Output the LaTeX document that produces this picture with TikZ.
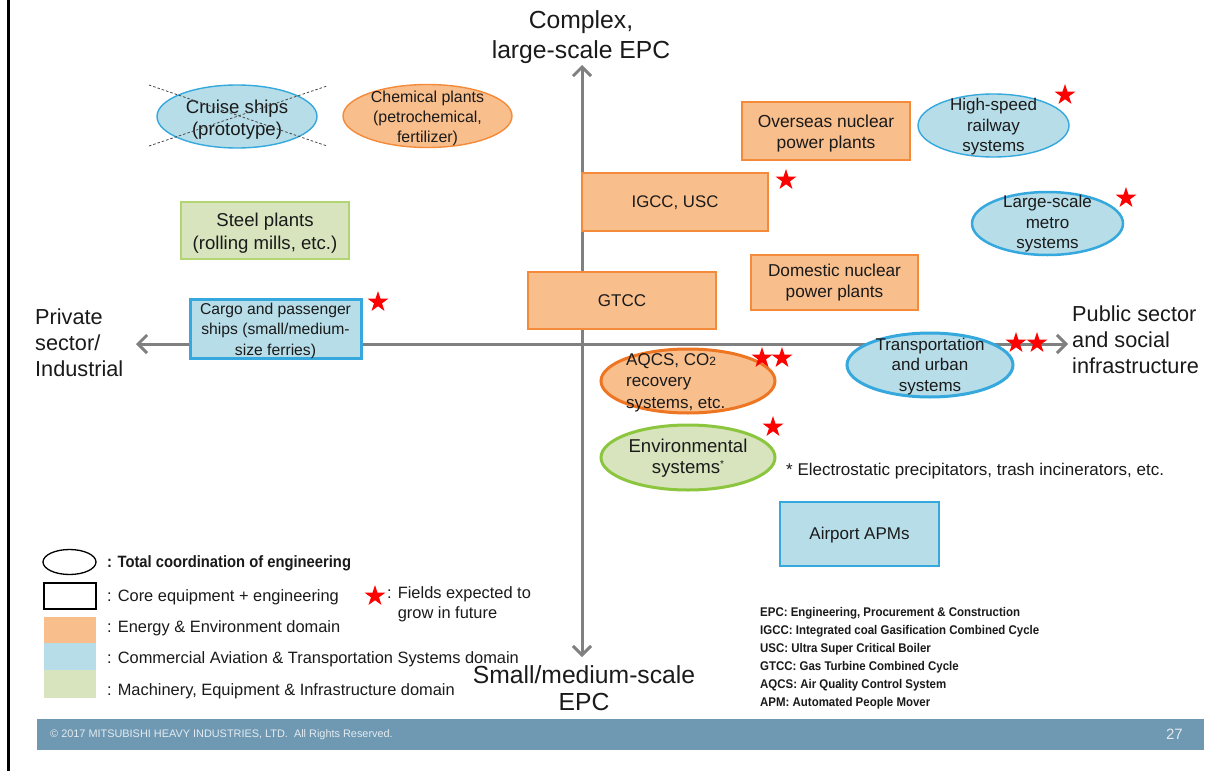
\documentclass[tikz,border=0pt]{standalone}
\usepackage{fontspec}
\usepackage{graphicx}
\setmainfont{Liberation Sans}
\usetikzlibrary{shapes.geometric,arrows.meta}

\definecolor{inkdark}{HTML}{1A1A1A}
\definecolor{engfill}{HTML}{F8BE8C}
\definecolor{engline}{HTML}{F38B3A}
\definecolor{engheavy}{HTML}{EE7623}
\definecolor{trfill}{HTML}{B7DDE8}
\definecolor{trline}{HTML}{35A8DD}
\definecolor{mafill}{HTML}{D7E4BD}
\definecolor{maline}{HTML}{B3D472}
\definecolor{maheavy}{HTML}{8CC63F}
\definecolor{axisgray}{HTML}{808080}
\definecolor{barblue}{HTML}{6F98B2}
\definecolor{bartext}{HTML}{E3EBF0}
\definecolor{starred}{HTML}{FF0000}

\newcommand{\fsz}[2]{\fontsize{#1pt}{#2pt}\selectfont}

\tikzset{
  panel/.style={rectangle, draw, line width=1.4pt, inner sep=0pt},
  oval/.style={ellipse, draw, line width=1.4pt, inner sep=0pt},
  energy/.style={fill=engfill, draw=engline},
  transport/.style={fill=trfill, draw=trline},
  machinery/.style={fill=mafill, draw=maline},
  heavy/.style={line width=3pt},
  growth/.style={star, star points=5, star point ratio=2.6, fill=starred,
    draw=none, minimum size=22pt, inner sep=0pt},
  caption/.style={inner sep=0pt, align=center, text=inkdark},
  axisline/.style={draw=axisgray, line width=3pt,
    {Straight Barb[length=9pt,width=18pt]}-{Straight Barb[length=9pt,width=18pt]}},
  legendtext/.style={inner sep=0pt, anchor=west, text=inkdark, font=\fsz{16.4}{20}},
  abbrev/.style={inner sep=0pt, anchor=west, text=inkdark},
}

\begin{document}
\begin{tikzpicture}[x=1pt,y=-1pt]
\useasboundingbox (0,0) rectangle (1224,771);
\fill[white] (0,0) rectangle (1224,771);

% page frame line on the left
\draw[black, line width=2.7pt] (8.7,0) -- (8.7,771);

% axes
\coordinate (ax-top) at (582,65);
\coordinate (ax-bot) at (582,657);
\coordinate (ax-left) at (136,344);
\coordinate (ax-right) at (1068,344);
\draw[axisline] (ax-bot) -- (ax-top);
\draw[axisline] (ax-left) -- (ax-right);

% axis captions
\node[caption, font=\fsz{24.7}{30}] (lbl-top) at (581,37.5) {Complex,\\large-scale EPC};
\node[caption, font=\fsz{24.7}{27}] (lbl-bot) at (584,688) {Small/medium-scale\\EPC};
\node[caption, align=left, anchor=west, font=\fsz{21.7}{26}] (lbl-left) at (35,342.5) {Private\\sector/\\Industrial};
\node[caption, align=left, anchor=west, font=\fsz{21.7}{26}] (lbl-right) at (1072,340) {Public sector\\and social\\infrastructure};

% core equipment + engineering (rectangles)
\node[panel, energy, minimum width=168pt, minimum height=58pt] (overseas) at (826,131) {};
\node[caption, font=\fsz{17.4}{21}] (overseas-t) at (826,133) {Overseas nuclear\\power plants};

\node[panel, energy, minimum width=186pt, minimum height=58pt] (igcc) at (675,202) {};
\node[caption, font=\fsz{16.8}{20}] (igcc-t) at (675,202.5) {IGCC, USC};

\node[panel, machinery, line width=1.2pt, minimum width=168pt, minimum height=57pt] (steel) at (265,230.5) {};
\node[caption, font=\fsz{18.6}{23}] (steel-t) at (265,233) {Steel plants\\(rolling mills, etc.)};

\node[panel, energy, minimum width=167pt, minimum height=55pt] (domestic) at (834.5,282.5) {};
\node[caption, font=\fsz{17.2}{21}] (domestic-t) at (834.5,283) {Domestic nuclear\\power plants};

\node[panel, energy, minimum width=188pt, minimum height=57pt] (gtcc) at (622,300.5) {};
\node[caption, font=\fsz{17}{20}] (gtcc-t) at (622,300.5) {GTCC};

\node[panel, transport, heavy, minimum width=171pt, minimum height=59pt] (cargo) at (275.5,328.5) {};
\node[caption, font=\fsz{15.7}{20.5}] (cargo-t) at (275.5,330.5) {Cargo and passenger\\ships (small/medium-\\size ferries)};

\node[panel, transport, minimum width=159pt, minimum height=64pt] (apm) at (859.5,534) {};
\node[caption, font=\fsz{17}{20}] (apm-t) at (859.5,535) {Airport APMs};

% total coordination of engineering (ellipses)
\node[oval, transport, minimum width=160pt, minimum height=63pt] (cruise) at (237,116.5) {};
\node[caption, font=\fsz{18.6}{22}] (cruise-t) at (237,119.5) {Cruise ships\\(prototype)};
\draw[inkdark!80, line width=0.8pt, dash pattern=on 2.5pt off 2pt] (149,85) -- (327,146);
\draw[inkdark!80, line width=0.8pt, dash pattern=on 2.5pt off 2pt] (149,146) -- (327,86);

\node[oval, energy, minimum width=169pt, minimum height=63pt] (chemical) at (427.5,116) {};
\node[caption, font=\fsz{15.9}{20}] (chemical-t) at (427.5,118.5) {Chemical plants\\(petrochemical,\\fertilizer)};

\node[oval, transport, minimum width=151pt, minimum height=63pt] (hsr) at (993.5,125.5) {};
\node[caption, font=\fsz{17}{20.5}] (hsr-t) at (993.5,127) {High-speed\\railway\\systems};

\node[oval, transport, line width=2.5pt, minimum width=151pt, minimum height=63pt] (metro) at (1047.5,223.5) {};
\node[caption, font=\fsz{17}{20.5}] (metro-t) at (1047.5,224) {Large-scale\\metro\\systems};

\node[oval, energy, draw=engheavy, heavy, minimum width=174pt, minimum height=64pt] (aqcs) at (688,381) {};
\node[caption, align=left, anchor=west, font=\fsz{17}{21.5}] (aqcs-t) at (626,382.5)
  {AQCS, CO{\fsz{12}{12}\raisebox{-0.5pt}{2}}\\recovery\\systems, etc.};

\node[oval, machinery, draw=maheavy, heavy, minimum width=174pt, minimum height=65pt] (env) at (688,457.5) {};
\node[caption, font=\fsz{18.6}{21}] (env-t) at (688,458.5) {Environmental\\systems\raisebox{6pt}{\fsz{10}{10}*}};

\node[oval, transport, heavy, minimum width=166pt, minimum height=64pt] (transp) at (930,365) {};
\node[caption, font=\fsz{17}{20.5}] (transp-t) at (930,366.5) {Transportation\\and urban\\systems};

% footnote for environmental systems
\node[inner sep=0pt, anchor=west, text=inkdark, font=\fsz{17}{20}] (envnote) at (786,471)
  {* Electrostatic precipitators, trash incinerators, etc.};

% growth stars
\node[growth] (s-hsr) at (1065,95) {};
\node[growth] (s-metro) at (1126,198) {};
\node[growth] (s-igcc) at (786,180) {};
\node[growth] (s-cargo) at (378,302) {};
\node[growth] (s-aqcs1) at (762,358) {};
\node[growth] (s-aqcs2) at (782,358) {};
\node[growth] (s-env) at (773,427) {};
\node[growth] (s-transp1) at (1016,343) {};
\node[growth] (s-transp2) at (1037,343) {};

% legend
\node[ellipse, draw=black, line width=1.3pt, minimum width=53pt, minimum height=25pt, inner sep=0pt] (lg-oval) at (69.5,562) {};
\node[rectangle, draw=black, line width=1.3pt, minimum width=52pt, minimum height=26pt, inner sep=0pt] (lg-rect) at (70,596) {};
\node[rectangle, fill=engfill, minimum width=52pt, minimum height=26.5pt, inner sep=0pt] (lg-energy) at (70,630) {};
\node[rectangle, fill=trfill, minimum width=52pt, minimum height=27pt, inner sep=0pt] (lg-transport) at (70,656.5) {};
\node[rectangle, fill=mafill, minimum width=52pt, minimum height=28pt, inner sep=0pt] (lg-machinery) at (70,684) {};

\node[legendtext] (lg-oval-t) at (107,563) {\scalebox{0.9}[1]{\bfseries : Total coordination of engineering}};
\node[legendtext] (lg-rect-t) at (107,597) {: Core equipment + engineering};
\node[legendtext] (lg-energy-t) at (107,628) {: Energy \& Environment domain};
\node[legendtext] (lg-transport-t) at (107,659.5) {: Commercial Aviation \& Transportation Systems domain};
\node[legendtext] (lg-machinery-t) at (107,691) {: Machinery, Equipment \& Infrastructure domain};

\node[growth] (lg-star) at (375,596) {};
\node[legendtext, align=left] (lg-star-t) at (387,604) {: Fields expected to\\\phantom{: }grow in future};

% abbreviations
\node[abbrev] (abbr1) at (760,613) {\scalebox{0.91}[1]{\fsz{12.6}{18}\bfseries EPC: Engineering, Procurement \& Construction}};
\node[abbrev] (abbr2) at (760,631) {\scalebox{0.91}[1]{\fsz{12.6}{18}\bfseries IGCC: Integrated coal Gasification Combined Cycle}};
\node[abbrev] (abbr3) at (760,649) {\scalebox{0.91}[1]{\fsz{12.6}{18}\bfseries USC: Ultra Super Critical Boiler}};
\node[abbrev] (abbr4) at (760,667) {\scalebox{0.91}[1]{\fsz{12.6}{18}\bfseries GTCC: Gas Turbine Combined Cycle}};
\node[abbrev] (abbr5) at (760,685) {\scalebox{0.91}[1]{\fsz{12.6}{18}\bfseries AQCS: Air Quality Control System}};
\node[abbrev] (abbr6) at (760,703) {\scalebox{0.91}[1]{\fsz{12.6}{18}\bfseries APM: Automated People Mover}};

% footer bar
\node[rectangle, fill=barblue, minimum width=1167pt, minimum height=31pt, inner sep=0pt] (footer) at (620.5,734.5) {};
\node[inner sep=0pt, anchor=west, text=bartext, font=\fsz{10.9}{12}] (copyright) at (50,734.5)
  {\textcopyright{} 2017 MITSUBISHI HEAVY INDUSTRIES, LTD.\ \ All Rights Reserved.};
\node[inner sep=0pt, anchor=east, text=bartext, font=\fsz{15}{16}] (pageno) at (1183,734.5) {27};
\end{tikzpicture}
\end{document}
